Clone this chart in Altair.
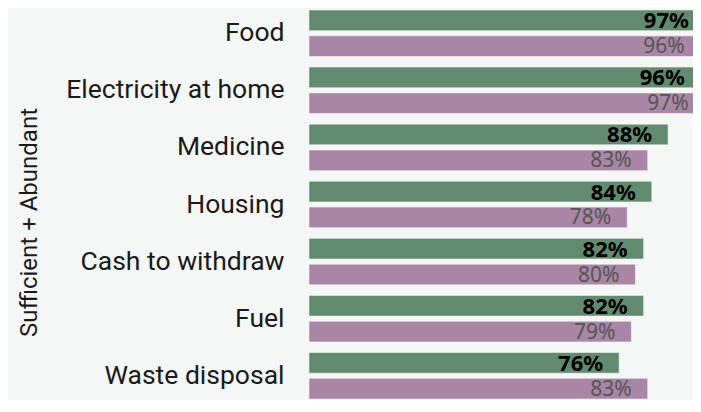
import altair as alt
import pandas as pd

categories = ["Food", "Electricity at home", "Medicine", "Housing",
              "Cash to withdraw", "Fuel", "Waste disposal"]
series = ["Series A", "Series B"]
values_a = [97, 96, 88, 84, 82, 82, 76]
values_b = [96, 97, 83, 78, 80, 79, 83]

rows = []
for c, a, b in zip(categories, values_a, values_b):
    rows.append({"category": c, "series": series[0], "value": a, "label": f"{a}%"})
    rows.append({"category": c, "series": series[1], "value": b, "label": f"{b}%"})
df = pd.DataFrame(rows)

GREEN = "#628a6f"
PINK = "#a986a5"
BG = "#f5f7f6"

y_enc = alt.Y("category:N", sort=categories,
              scale=alt.Scale(paddingInner=0.185, paddingOuter=0.026, align=0.67),
              axis=alt.Axis(title="Sufficient + Abundant", labelFont="Roboto",
                            labelFontSize=26.5, labelColor="#1a1a1a",
                            labelPadding=25, labelLimit=0, domain=False, ticks=False,
                            titleFont="Roboto", titleFontSize=24,
                            titleFontWeight="normal", titleColor="#1a1a1a",
                            titleAngle=-90, titleX=-268, titleY=214,
                            titleAlign="center", titleBaseline="bottom"))
yoff = alt.YOffset("series:N", sort=series,
                   scale=alt.Scale(paddingInner=0.2, paddingOuter=0))
x_enc = alt.X("value:Q", scale=alt.Scale(domain=[0, 94.1], nice=False, zero=True),
              axis=None)

base = alt.Chart(df).encode(y=y_enc, yOffset=yoff, x=x_enc)

bars = base.mark_bar(clip=True, stroke="white", strokeWidth=1,
                     strokeOpacity=0.5).encode(
    color=alt.Color("series:N", sort=series,
                    scale=alt.Scale(domain=series, range=[GREEN, PINK]),
                    legend=None)
)

text_a = base.transform_filter(alt.datum.series == series[0]).mark_text(
    align="right", baseline="middle", dx=-16, dy=1, font="Noto Sans",
    fontSize=22, fontWeight="bold", color="#000000"
).encode(text="label:N")

text_b = base.transform_filter(alt.datum.series == series[1]).mark_text(
    align="right", baseline="middle", dx=-16, dy=1, font="Noto Sans",
    fontSize=21, fontWeight="normal", color="#555555"
).encode(text="label:N")

chart = alt.layer(bars, text_a, text_b).properties(
    width=384, height=392,
    autosize=alt.AutoSizeParams(type="none"),
    padding={"left": 301, "top": 0, "right": 0, "bottom": 0},
    background=BG,
).configure_view(stroke=None)

chart.save("out.html", embed_options={"renderer": "svg", "actions": False})
